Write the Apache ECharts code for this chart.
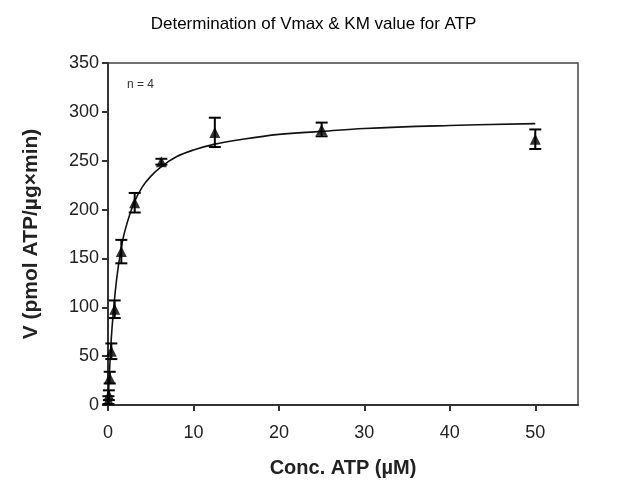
<!DOCTYPE html>
<html><head><meta charset="utf-8">
<script src="https://cdn.jsdelivr.net/npm/echarts@6/dist/echarts.min.js"></script>
<style>html,body{margin:0;padding:0;background:#fff}#c{width:627px;height:489px}</style>
</head><body><div id="c"></div>
<script>
var concentrations = [0.05, 0.1, 0.2, 0.39, 0.78, 1.56, 3.125, 6.25, 12.5, 25, 50];
var velocities     = [5, 10, 28, 55, 98, 157, 207, 249, 279, 282, 272];
var errors         = [4, 5, 6, 8, 9, 12, 10, 3, 15, 7, 10];
var fitX = [0, 0.25, 0.5, 1, 1.5, 2, 3, 4, 5, 6.25, 8, 10, 12.5, 15, 20, 25, 30, 40, 50];
var fitY = [0, 47, 82, 128, 158, 179, 206, 223, 234, 244, 254, 261, 267, 271, 277, 280, 283, 286, 288];
var xTicks = [0, 10, 20, 30, 40, 50];

var pts = concentrations.map(function(x,i){return [x, velocities[i]];});
var errData = concentrations.map(function(x,i){return [x, velocities[i]-errors[i], velocities[i]+errors[i]];});
var fit = fitX.map(function(x,i){return [x, fitY[i]];});

var chart = echarts.init(document.getElementById('c'));
var FONT = '"Liberation Sans", Arial, sans-serif';
chart.setOption({
  animation:false,
  title:{text:'Determination of Vmax & KM value for ATP', left:'center', top:11,
    textStyle:{fontFamily:FONT, fontWeight:'normal', fontSize:17, color:'#000'}},
  grid:{left:108, right:49, top:63, bottom:84, show:true, borderColor:'#444', borderWidth:1.5, backgroundColor:'#fff'},
  xAxis:{type:'value', min:0, max:55, interval:10,
    name:'Conc. ATP (µM)', nameLocation:'middle', nameGap:53,
    nameTextStyle:{fontFamily:FONT, fontWeight:'bold', fontSize:20, color:'#222'},
    axisLine:{show:true, onZero:false, lineStyle:{color:'#333', width:2}},
    axisTick:{show:true, length:6, lineStyle:{color:'#333', width:2}, customValues: xTicks},
    axisLabel:{fontFamily:FONT, fontSize:18, color:'#222', margin:19, customValues: xTicks},
    splitLine:{show:false}},
  yAxis:{type:'value', min:0, max:350, interval:50,
    name:'V (pmol ATP/µg×min)', nameLocation:'middle', nameGap:66,
    nameTextStyle:{fontFamily:FONT, fontWeight:'bold', fontSize:21, color:'#222'},
    axisLine:{show:true, onZero:false, lineStyle:{color:'#333', width:2}},
    axisTick:{show:true, length:6, lineStyle:{color:'#333', width:2}},
    axisLabel:{fontFamily:FONT, fontSize:18, color:'#222', margin:9},
    splitLine:{show:false}},
  graphic:[{type:'text', left:127, top:79, style:{text:'n = 4', fontFamily:FONT, fontSize:12, fill:'#333'}}],
  series:[
    {type:'line', data:fit, smooth:0.4, symbol:'none', lineStyle:{color:'#111', width:1.6}, z:2},
    {type:'custom', data:errData, z:3,
      renderItem:function(params, api){
        var x = api.value(0);
        var lo = api.coord([x, api.value(1)]);
        var hi = api.coord([x, api.value(2)]);
        var w = 6;
        var st = {stroke:'#000', lineWidth:2};
        return {type:'group', children:[
          {type:'line', shape:{x1:lo[0],y1:lo[1],x2:hi[0],y2:hi[1]}, style:st},
          {type:'line', shape:{x1:lo[0]-w,y1:lo[1],x2:lo[0]+w,y2:lo[1]}, style:st},
          {type:'line', shape:{x1:hi[0]-w,y1:hi[1],x2:hi[0]+w,y2:hi[1]}, style:st}
        ]};
      }},
    {type:'scatter', data:pts, symbol:'triangle', symbolSize:11, itemStyle:{color:'#000'}, z:4}
  ]
});
</script></body></html>
